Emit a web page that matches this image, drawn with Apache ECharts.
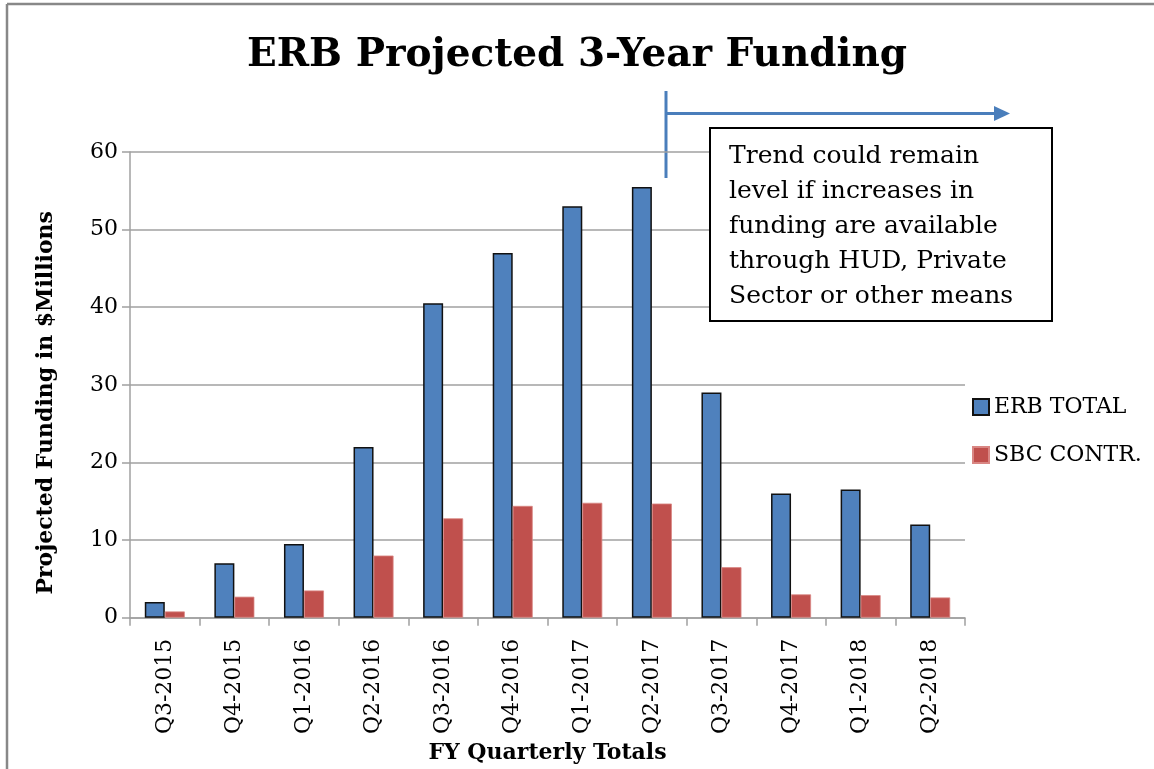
<!DOCTYPE html>
<html>
<head>
<meta charset="utf-8">
<script src="https://cdn.jsdelivr.net/npm/echarts@6/dist/echarts.min.js"></script>
<style>
  html, body { margin: 0; padding: 0; background: #fff; }
  #chart { width: 1154px; height: 769px; }
</style>
</head>
<body>
<div id="chart"></div>
<script>
// quarters on the x axis
const quarters = ['Q3-2015', 'Q4-2015', 'Q1-2016', 'Q2-2016', 'Q3-2016', 'Q4-2016',
  'Q1-2017', 'Q2-2017', 'Q3-2017', 'Q4-2017', 'Q1-2018', 'Q2-2018']
// values in $ millions
const erbTotal = [2, 7, 9.5, 22, 40.5, 47, 53, 55.5, 29, 16, 16.5, 12]
const sbcContr = [0.8, 2.7, 3.5, 8, 12.8, 14.4, 14.8, 14.7, 6.5, 3, 2.9, 2.6]
const noteLines = ['Trend could remain', 'level if increases in', 'funding are available',
  'through HUD, Private', 'Sector or other means']

const serif = 'DejaVu Serif'
const chart = echarts.init(document.getElementById('chart'))

const option = {
  backgroundColor: '#fff',
  animation: false,
  title: {
    text: 'ERB Projected 3-Year Funding',
    left: 'center',
    top: 31,
    textStyle: { fontFamily: serif, fontWeight: 'bold', fontSize: 39, color: '#000' }
  },
  legend: {
    orient: 'vertical',
    left: 972,
    top: 396,
    padding: 0,
    itemWidth: 16,
    itemHeight: 16,
    itemGap: 26,
    icon: 'rect',
    textStyle: { fontFamily: serif, fontSize: 22, color: '#000' },
    data: ['ERB TOTAL', 'SBC CONTR.']
  },
  grid: { left: 130, right: 189, top: 152, bottom: 150 },
  xAxis: {
    type: 'category',
    data: quarters,
    name: 'FY Quarterly Totals',
    nameLocation: 'middle',
    nameGap: 124,
    nameTextStyle: { fontFamily: serif, fontWeight: 'bold', fontSize: 22, color: '#000' },
    axisLine: { lineStyle: { color: '#a0a0a0', width: 1.5 } },
    axisTick: { show: true, length: 8, interval: 0, lineStyle: { color: '#a0a0a0', width: 1.5 } },
    axisLabel: { rotate: 90, interval: 0, margin: 21, fontFamily: serif, fontSize: 22, color: '#000' }
  },
  yAxis: {
    type: 'value',
    min: 0,
    max: 60,
    interval: 10,
    name: 'Projected Funding in $Millions',
    nameLocation: 'middle',
    nameGap: 73,
    nameTextStyle: { fontFamily: serif, fontWeight: 'bold', fontSize: 22, color: '#000', padding: [0, 36, 0, 0] },
    axisLine: { show: true, lineStyle: { color: '#a0a0a0', width: 1.5 } },
    axisTick: { show: true, length: 8, lineStyle: { color: '#a0a0a0', width: 1.5 } },
    axisLabel: { margin: 12, fontFamily: serif, fontSize: 22, color: '#000' },
    splitLine: { lineStyle: { color: '#a0a0a0', width: 1.5 } }
  },
  series: [
    {
      name: 'ERB TOTAL',
      type: 'bar',
      barWidth: 20,
      barGap: '0%',
      itemStyle: { color: '#4f81bd', borderColor: '#111', borderWidth: 1.5 },
      data: erbTotal
    },
    {
      name: 'SBC CONTR.',
      type: 'bar',
      barWidth: 20,
      itemStyle: { color: '#c0504d', borderColor: '#d98683', borderWidth: 0.8 },
      data: sbcContr
    }
  ],
  graphic: [
    // page frame
    { type: 'line', shape: { x1: 7, y1: 4, x2: 7, y2: 769 }, style: { stroke: '#888', lineWidth: 2.5 } },
    { type: 'line', shape: { x1: 7, y1: 4, x2: 1154, y2: 4 }, style: { stroke: '#888', lineWidth: 2.5 } },
    // trend arrow
    { type: 'line', shape: { x1: 666, y1: 91, x2: 666, y2: 178 }, style: { stroke: '#4a7ebb', lineWidth: 3 } },
    { type: 'line', shape: { x1: 666, y1: 113.5, x2: 996, y2: 113.5 }, style: { stroke: '#4a7ebb', lineWidth: 3 } },
    { type: 'polygon', shape: { points: [[994, 106], [1010, 113.5], [994, 121]] }, style: { fill: '#4a7ebb' } },
    // note box
    {
      type: 'rect',
      shape: { x: 710, y: 128, width: 342, height: 193 },
      style: { fill: '#fff', stroke: '#000', lineWidth: 2 },
      z: 10
    },
    {
      type: 'text',
      x: 729,
      y: 139,
      z: 11,
      style: {
        text: noteLines.join('\n'),
        fontFamily: serif,
        fontSize: 25,
        lineHeight: 35,
        fill: '#000',
        textAlign: 'left',
        textVerticalAlign: 'top'
      }
    }
  ]
}

chart.setOption(option)
</script>
</body>
</html>
